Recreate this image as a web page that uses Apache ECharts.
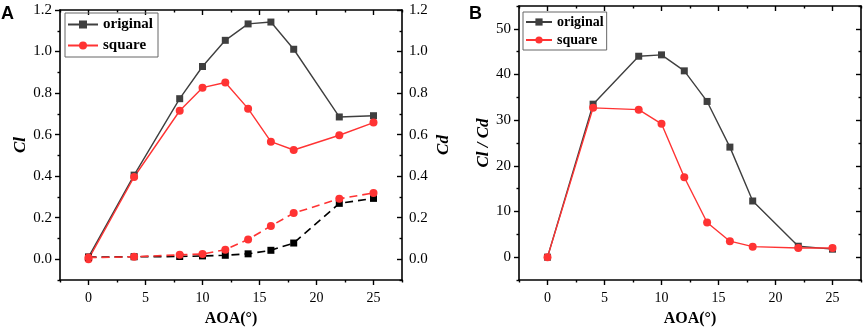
<!DOCTYPE html>
<html>
<head>
<meta charset="utf-8">
<script src="https://cdn.jsdelivr.net/npm/echarts@6/dist/echarts.min.js"></script>
<style>
  html, body { margin: 0; padding: 0; background: #fff; }
  #chart-container { width: 865px; height: 332px; }
</style>
</head>
<body>
<div id="chart-container"></div>
<script>
// angle of attack, shared by both panels
var aoa = [0, 4, 8, 10, 12, 14, 16, 18, 22, 25];

// panel A: lift (solid) and drag (dashed)
var clOriginal = [0.01, 0.405, 0.773, 0.928, 1.054, 1.133, 1.142, 1.011, 0.685, 0.691];
var clSquare = [0.0, 0.396, 0.715, 0.826, 0.851, 0.725, 0.566, 0.526, 0.597, 0.658];
var cdOriginal = [0.01, 0.012, 0.013, 0.016, 0.019, 0.026, 0.043, 0.078, 0.269, 0.293];
var cdSquare = [0.008, 0.012, 0.021, 0.025, 0.046, 0.095, 0.16, 0.222, 0.291, 0.319];

// panel B: lift / drag ratio
var ldOriginal = [0, 33.5, 44.0, 44.3, 40.8, 34.1, 24.1, 12.3, 2.4, 1.75];
var ldSquare = [0, 32.7, 32.3, 29.2, 17.5, 7.6, 3.5, 2.3, 2.0, 2.0];

// tick positions
var aoaTicks = [0, 5, 10, 15, 20, 25];
var aoaMinor = [-2.5, 2.5, 7.5, 12.5, 17.5, 22.5, 27.5];
var coefTicks = [0, 0.2, 0.4, 0.6, 0.8, 1.0, 1.2];
var coefMinor = [-0.1, 0.1, 0.3, 0.5, 0.7, 0.9, 1.1];
var ratioTicks = [0, 10, 20, 30, 40, 50];
var ratioMinor = [-5, 5, 15, 25, 35, 45, 55];

var serif = '"Liberation Serif", "DejaVu Serif", serif';
var gray = '#3f3f3f';
var red = '#ff3333';

var myChart = echarts.init(document.getElementById('chart-container'));

// one axis side; minor ticks are drawn by a second, bare axis on top of it
var makeAxis = function (grid, pos, min, max, ticks, len, inside, label, name, gap) {
    var ax = {
        type: 'value', gridIndex: grid, position: pos, min: min, max: max,
        splitLine: { show: false },
        axisLine: { show: !!label || label === null, onZero: false, lineStyle: { color: '#000', width: 1.6 } },
        axisTick: { show: true, inside: inside, length: len, customValues: ticks, lineStyle: { color: '#000', width: 1.4 } },
        axisLabel: { show: false }
    };
    if (label) {
        ax.axisLabel = {
            show: true, customValues: ticks, formatter: label.fmt, margin: label.margin,
            color: '#000', fontFamily: serif, fontSize: label.size
        };
    }
    if (name) {
        ax.name = name;
        ax.nameLocation = 'middle';
        ax.nameGap = gap;
        ax.nameTextStyle = name.indexOf('AOA') === 0
            ? { color: '#000', fontFamily: serif, fontSize: 16, fontWeight: 'bold' }
            : { color: '#000', fontFamily: serif, fontSize: 17, fontWeight: 'bold', fontStyle: 'italic' };
    }
    return ax;
};

var intFmt = function (v) { return String(Math.round(v)); };
var oneFmt = function (v) { return v.toFixed(1); };

var xAxes = [], yAxes = [];
[0, 1].forEach(function (g) {
    xAxes.push(makeAxis(g, 'bottom', -2.5, 27.5, aoaTicks, 5, false, { fmt: intFmt, margin: 11, size: 14 }, 'AOA(°)', 31));
    xAxes.push(makeAxis(g, 'bottom', -2.5, 27.5, aoaMinor, 2.5, false));
    xAxes.push(makeAxis(g, 'top', -2.5, 27.5, aoaTicks, 5, true, null));
    xAxes.push(makeAxis(g, 'top', -2.5, 27.5, aoaMinor, 2.5, true));
});
// grid 0: Cl left, Cd right
yAxes.push(makeAxis(0, 'left', -0.1, 1.2, coefTicks, 5, false, { fmt: oneFmt, margin: 8, size: 15 }, 'Cl', 28));
yAxes.push(makeAxis(0, 'left', -0.1, 1.2, coefMinor, 2.5, false));
yAxes.push(makeAxis(0, 'right', -0.1, 1.2, coefTicks, 5, true, { fmt: oneFmt, margin: 7, size: 15 }, 'Cd', 33));
yAxes.push(makeAxis(0, 'right', -0.1, 1.2, coefMinor, 2.5, true));
// grid 1: Cl/Cd
yAxes.push(makeAxis(1, 'left', -5, 55, ratioTicks, 5, false, { fmt: intFmt, margin: 8, size: 15 }, 'Cl / Cd', 25));
yAxes.push(makeAxis(1, 'left', -5, 55, ratioMinor, 2.5, false));
yAxes.push(makeAxis(1, 'right', -5, 55, ratioTicks, 5, true, null));
yAxes.push(makeAxis(1, 'right', -5, 55, ratioMinor, 2.5, true));

var pairs = function (ys) {
    return aoa.map(function (x, i) { return [x, ys[i]]; });
};

var line = function (name, xi, yi, ys, color, sym, dashed) {
    return {
        name: name, type: 'line', xAxisIndex: xi, yAxisIndex: yi,
        data: pairs(ys),
        symbol: sym, symbolSize: sym === 'rect' ? 7 : 8,
        itemStyle: { color: color },
        lineStyle: { color: color, width: dashed ? 1.6 : 1.4, type: dashed ? [8, 5] : 'solid' },
        emphasis: { disabled: true },
        animation: false
    };
};

var legendText = function (size) {
    return { color: '#000', fontFamily: serif, fontSize: size, fontWeight: 'bold' };
};

option = {
    backgroundColor: '#fff',
    title: [
        { text: 'A', left: 1, top: 5, padding: 0, textStyle: { fontFamily: '"Liberation Sans", Arial, sans-serif', fontSize: 18, fontWeight: 'bold', color: '#000' } },
        { text: 'B', left: 469, top: 5, padding: 0, textStyle: { fontFamily: '"Liberation Sans", Arial, sans-serif', fontSize: 18, fontWeight: 'bold', color: '#000' } }
    ],
    legend: [
        {
            left: 65, top: 13, orient: 'vertical', data: ['original', 'square'],
            itemWidth: 30, itemHeight: 10, itemGap: 6, padding: [4, 5, 4, 2],
            borderColor: '#666', borderWidth: 1, textStyle: legendText(15)
        },
        {
            left: 523, top: 12, orient: 'vertical', data: ['original', 'square'],
            itemWidth: 26, itemHeight: 9, itemGap: 4, padding: [3, 3, 3, 2],
            borderColor: '#666', borderWidth: 1, textStyle: legendText(14)
        }
    ],
    grid: [
        { left: 60, top: 10, width: 342, height: 273 },
        { left: 519, top: 6, width: 342, height: 277 }
    ],
    xAxis: xAxes,
    yAxis: yAxes,
    series: [
        line('original', 0, 0, clOriginal, gray, 'rect', false),
        line('square', 0, 0, clSquare, red, 'circle', false),
        line('original', 0, 2, cdOriginal, '#000', 'rect', true),
        line('square', 0, 2, cdSquare, red, 'circle', true),
        line('original', 4, 4, ldOriginal, gray, 'rect', false),
        line('square', 4, 4, ldSquare, red, 'circle', false)
    ]
};

myChart.setOption(option);
</script>
</body>
</html>
